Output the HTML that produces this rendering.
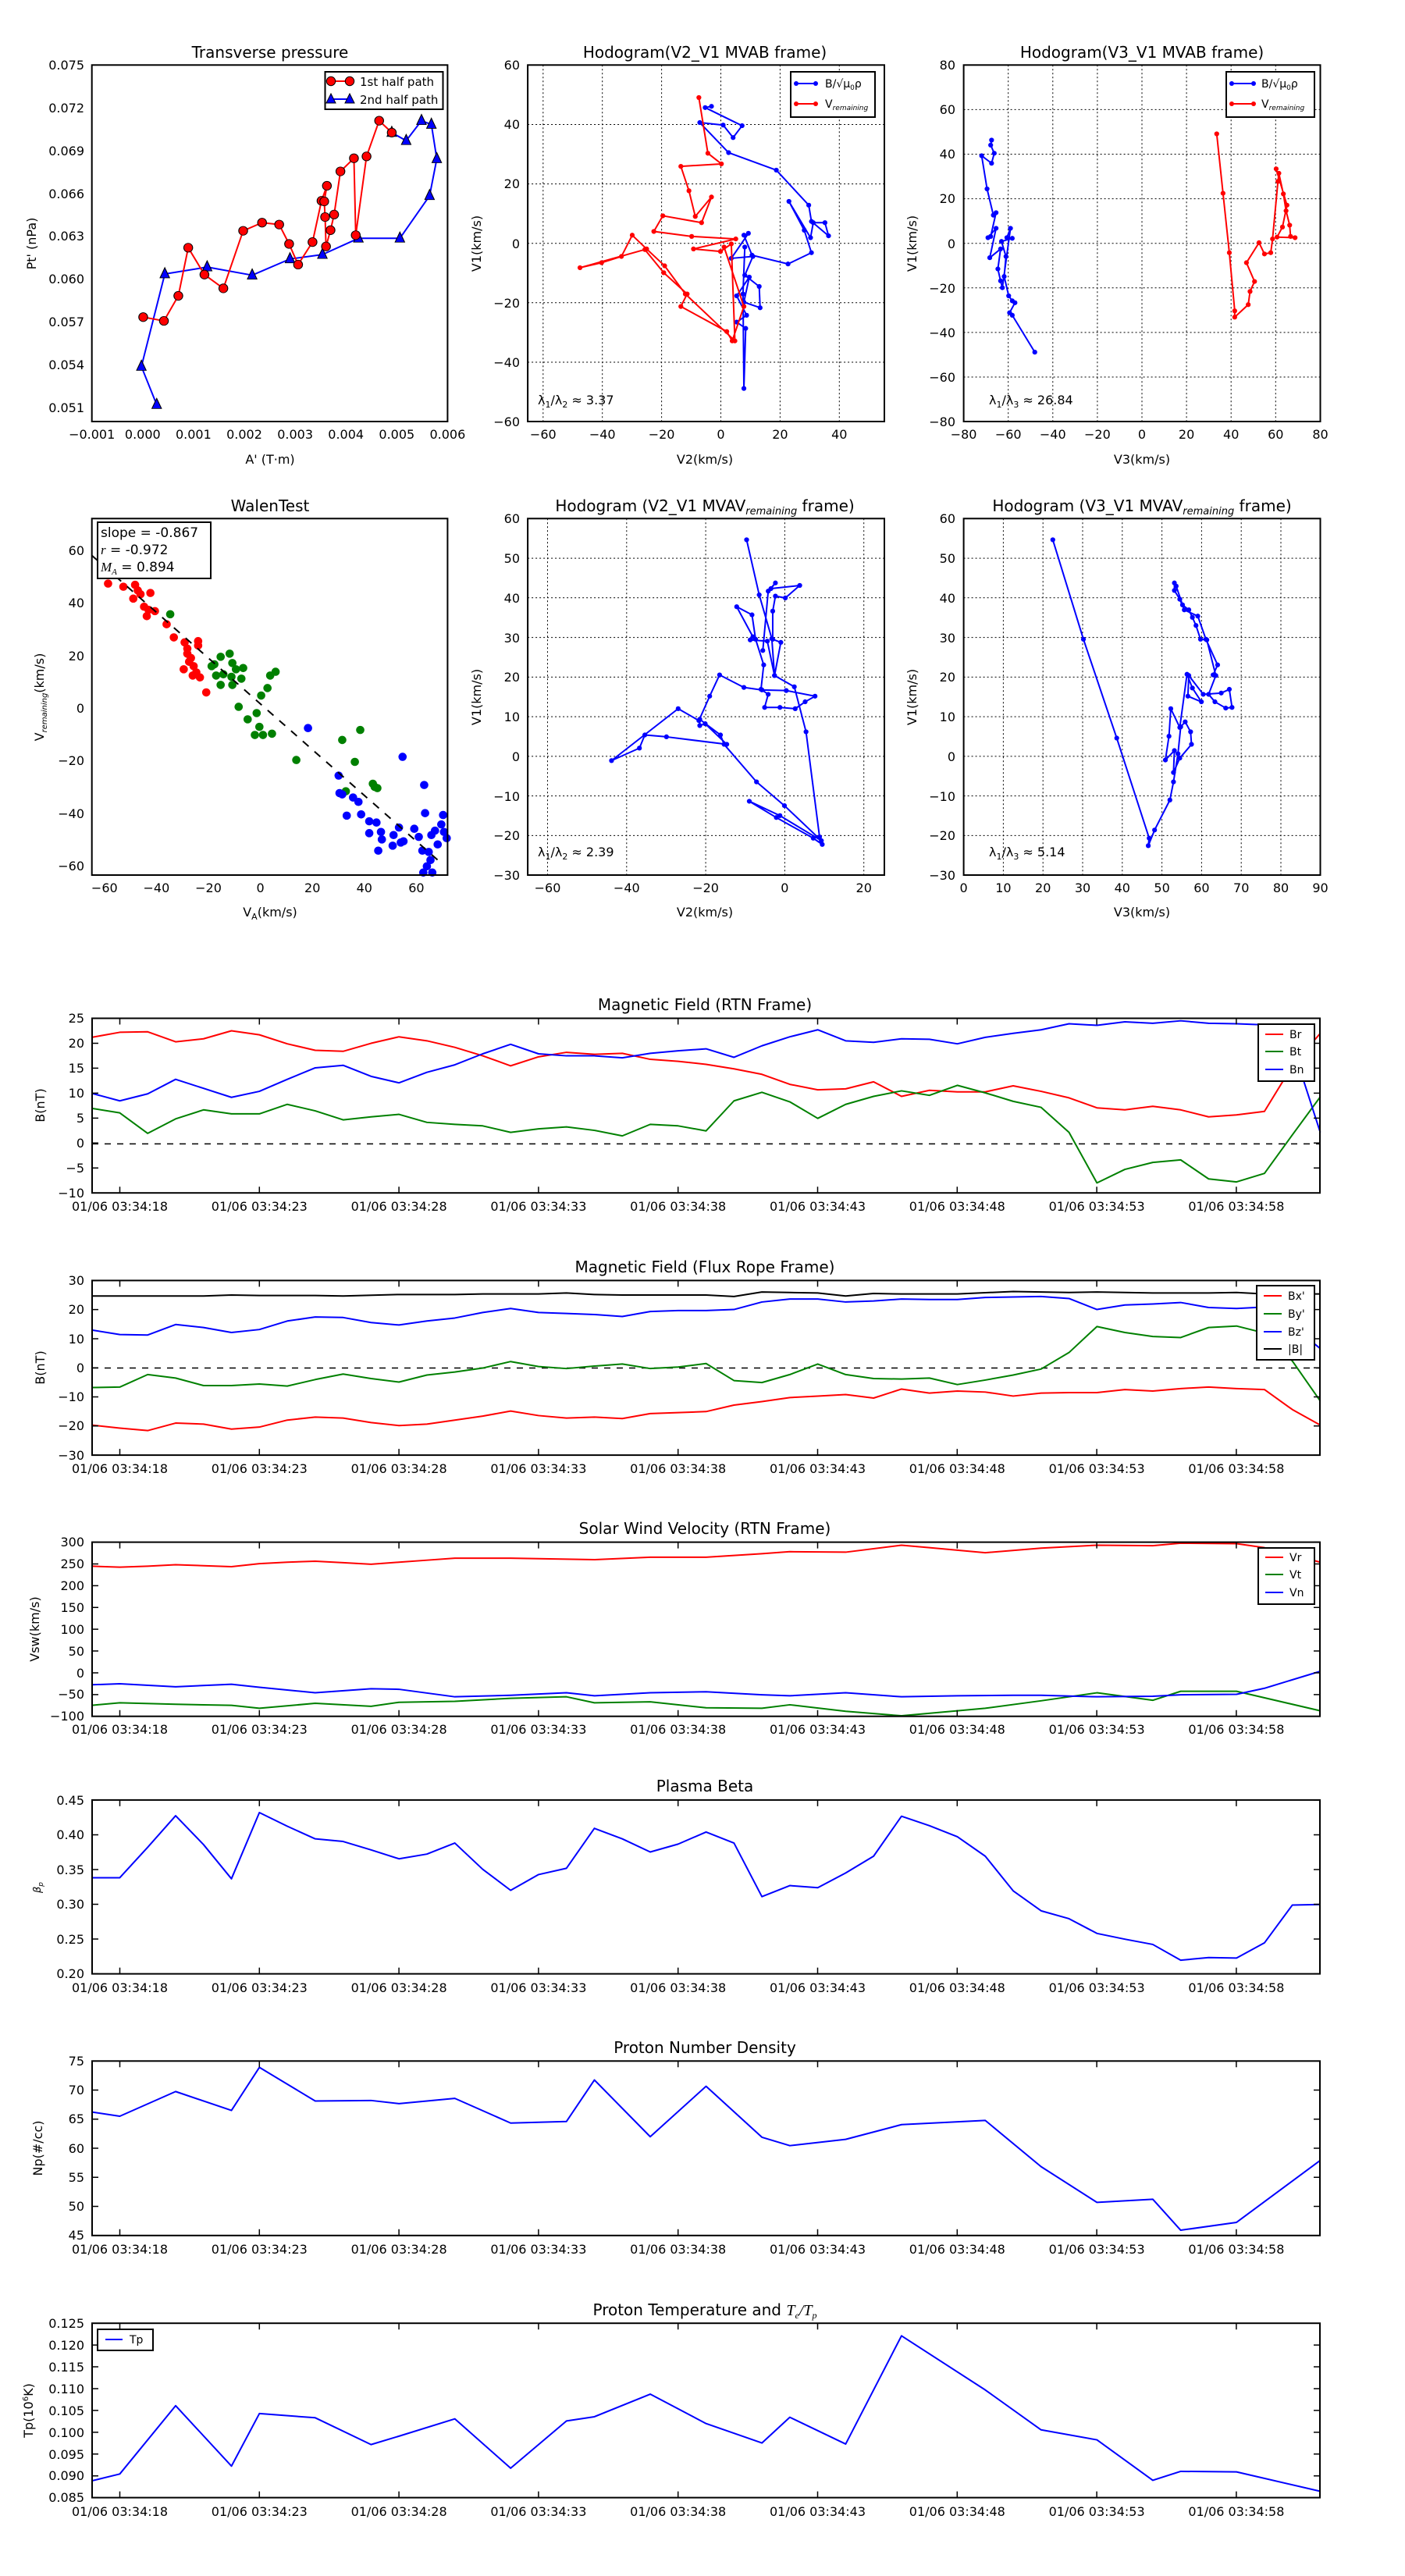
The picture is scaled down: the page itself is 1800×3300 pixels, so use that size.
<!DOCTYPE html>
<html><head><meta charset="utf-8"><style>
html,body{margin:0;padding:0;background:#fff}
svg{display:block}
text{font-family:"DejaVu Sans","Liberation Sans",sans-serif;fill:#000}
.t{font-size:20px;text-anchor:middle}
.k{font-size:16px}
.r{text-anchor:end}
.m{text-anchor:middle}
.l{fill:none;stroke-width:2;vector-effect:non-scaling-stroke;stroke-linejoin:round}
.ax{fill:none;stroke:#000;stroke-width:2}
.tk{stroke:#000;stroke-width:8;fill:none}
.g{stroke:#000;stroke-width:1;stroke-dasharray:2 3;fill:none}
.mk{stroke:none;fill:none}
</style></head><body>
<svg width="1800" height="3300" viewBox="0 0 1800 3300" xmlns="http://www.w3.org/2000/svg">
<defs>
<marker id="mr" markerUnits="userSpaceOnUse" overflow="visible"><ellipse rx="4.9" ry="7.1" fill="#f00" stroke="#000" stroke-width="1" vector-effect="non-scaling-stroke"/></marker>
<marker id="tb" markerUnits="userSpaceOnUse" overflow="visible"><polygon points="0,-10 5.3,6.2 -5.3,6.2" fill="#00f" stroke="#000" stroke-width="1" vector-effect="non-scaling-stroke"/></marker>
<marker id="db" markerUnits="userSpaceOnUse" overflow="visible"><ellipse rx="2.7" ry="3.9" fill="#00f"/></marker>
<marker id="dr" markerUnits="userSpaceOnUse" overflow="visible"><ellipse rx="2.7" ry="3.9" fill="#f00"/></marker>
<marker id="sr" markerUnits="userSpaceOnUse" overflow="visible"><ellipse rx="4.6" ry="6.6" fill="#f00"/></marker>
<marker id="sg" markerUnits="userSpaceOnUse" overflow="visible"><ellipse rx="4.6" ry="6.6" fill="#008000"/></marker>
<marker id="sb" markerUnits="userSpaceOnUse" overflow="visible"><ellipse rx="4.6" ry="6.6" fill="#00f"/></marker>
</defs>

<!-- ================= TOP ROWS: grids ================= -->
<g class="g">
<!-- hodo1 -->
<path d="M695.8,83.3V540M771.7,83.3V540M847.6,83.3V540M923.5,83.3V540M999.4,83.3V540M1075.3,83.3V540M676.1,159.5H1133M676.1,235.6H1133M676.1,311.7H1133M676.1,387.8H1133M676.1,464H1133"/>
<!-- hodo2 -->
<path d="M1291.7,83.3V540M1348.8,83.3V540M1405.9,83.3V540M1463,83.3V540M1520.1,83.3V540M1577.2,83.3V540M1634.3,83.3V540M1234.6,140.4H1691.5M1234.6,197.5H1691.5M1234.6,254.6H1691.5M1234.6,311.7H1691.5M1234.6,368.8H1691.5M1234.6,425.9H1691.5M1234.6,483H1691.5"/>
<!-- hodo3 -->
<path d="M701.5,664.3V1121M802.8,664.3V1121M904.1,664.3V1121M1005.4,664.3V1121M1106.7,664.3V1121M676.1,715.1H1133M676.1,765.8H1133M676.1,816.6H1133M676.1,867.4H1133M676.1,918.1H1133M676.1,968.9H1133M676.1,1019.6H1133M676.1,1070.4H1133"/>
<!-- hodo4 -->
<path d="M1285.4,664.3V1121M1336.2,664.3V1121M1387,664.3V1121M1437.8,664.3V1121M1488.6,664.3V1121M1539.4,664.3V1121M1590.2,664.3V1121M1641,664.3V1121M1234.6,715.1H1691.5M1234.6,765.8H1691.5M1234.6,816.6H1691.5M1234.6,867.4H1691.5M1234.6,918.1H1691.5M1234.6,968.9H1691.5M1234.6,1019.6H1691.5M1234.6,1070.4H1691.5"/>
</g>

<!-- ================= TOP ROWS data (zoom1 coords) ================= -->
<g transform="scale(1.1538,0.8013)">
<!-- pressure -->
<polyline class="l" stroke="#00f" marker-start="url(#tb)" marker-mid="url(#tb)" marker-end="url(#tb)" points="174,647 157,586 183,438 230,427 280,440 322,414 358,407 398,381 444,381 477,313 485,254 479,199 468,193 451,225 435,212"/>
<polyline class="l" stroke="#f00" marker-start="url(#mr)" marker-mid="url(#mr)" marker-end="url(#mr)" points="159,507 182,513 198,473 209,396 227,439 248,461 270,369 291,356 310,359 321,390 331,423 347,387 357,321 363,297 360,322 361,347 362,394 367,368 371,343 378,274 393,253 395,376 407,250 421,193 435,212"/>
<!-- hodo1 -->
<polyline class="l" stroke="#00f" marker-start="url(#db)" marker-mid="url(#db)" marker-end="url(#db)" points="790,170 783,172 824,201 814,220 803,200 777,196 809,244 862,272 898,328 901,354 920,377 916,356 903,356 900,380 876,322 893,368 901,404 875,422 835,408 826,376 831,373 812,413 836,410 827,440 843,458 844,492 826,483 832,443 818,473 829,504 818,515 828,525 826,621 825,470 827,395"/>
<polyline class="l" stroke="#f00" marker-start="url(#dr)" marker-mid="url(#dr)" marker-end="url(#dr)" points="776,156 786,245 801,262 756,266 765,305 772,346 790,315 779,356 736,345 726,370 768,378 817,382 770,398 800,402 812,390 816,545 761,470 738,425 718,398 702,376 690,410 668,420 644,428 716,399 737,436 763,470 756,490 807,530 813,545 826,490 804,395"/>
<!-- hodo2 -->
<polyline class="l" stroke="#00f" marker-start="url(#db)" marker-mid="url(#db)" marker-end="url(#db)" points="1101,224 1100,232 1104,245 1101,261 1090,249 1096,302 1103,344 1106,340 1100,378 1097,380 1106,365 1099,412 1111,398 1108,430 1111,449 1113,460 1122,365 1118,380 1124,381 1112,386 1117,410 1115,442 1120,473 1124,481 1127,484 1121,500 1124,504 1149,563"/>
<polyline class="l" stroke="#f00" marker-start="url(#dr)" marker-mid="url(#dr)" marker-end="url(#dr)" points="1351,214 1358,309 1365,404 1371,497 1371,507 1386,487 1388,466 1393,450 1384,420 1398,388 1404,406 1411,404 1413,382 1419,290 1420,277 1425,310 1428,337 1432,360 1433,378 1438,380 1418,379 1424,363 1429,328 1417,270"/>
<!-- walen -->
<polyline class="mk" marker-start="url(#sr)" marker-mid="url(#sr)" marker-end="url(#sr)" points="120,933 137,938 150,935 153,944 148,957 156,950 167,948 160,970 165,975 172,977 163,985 185,998 193,1019 205,1027 208,1037 220,1025 220,1032 212,1052 210,1058 215,1065 204,1070 218,1075 222,1083 229,1107 214,1080 208,1045"/>
<polyline class="mk" marker-start="url(#sg)" marker-mid="url(#sg)" marker-end="url(#sg)" points="189,982 238,1062 245,1050 255,1045 258,1060 262,1070 270,1068 268,1085 248,1078 257,1082 240,1080 235,1065 258,1095 245,1095 265,1130 275,1150 285,1140 290,1112 297,1100 300,1080 306,1074 288,1162 283,1175 292,1175 302,1173 329,1215 380,1183 400,1167 394,1218 414,1253 419,1260 384,1265 416,1258"/>
<polyline class="mk" marker-start="url(#sb)" marker-mid="url(#sb)" marker-end="url(#sb)" points="342,1164 447,1210 376,1240 380,1270 377,1268 392,1275 398,1282 385,1304 401,1302 410,1313 418,1315 423,1330 410,1332 424,1342 437,1335 436,1352 448,1345 443,1323 465,1338 479,1335 472,1300 492,1303 471,1255 483,1328 493,1330 486,1350 469,1360 476,1362 478,1375 474,1385 470,1395 480,1395 420,1360 445,1347 496,1340 490,1318 460,1325"/>
<!-- hodo3 -->
<polyline class="l" stroke="#00f" marker-start="url(#db)" marker-mid="url(#db)" marker-end="url(#db)" points="829,863 843,951 857,1021 860,1080 882,1098 895,1170 910,1338 913,1350 903,1340 862,1307 832,1281 866,1304 912,1344 871,1288 840,1250 804,1190 800,1175 777,1150 777,1160 783,1157 807,1190 740,1178 716,1175 710,1196 679,1216 753,1133 776,1152 788,1113 799,1079 826,1099 846,1103 873,1104 905,1113 894,1122 883,1133 866,1131 849,1131 853,1110 845,1102 848,1063 839,1022 835,983 818,970 836,1018 833,1023 852,1025 860,1080 867,1027 858,1022 858,977 861,953 872,956 888,936 856,941 861,932 853,945 847,1040"/>
<!-- hodo4 -->
<polyline class="l" stroke="#00f" marker-start="url(#db)" marker-mid="url(#db)" marker-end="url(#db)" points="1169,863 1203,1022 1240,1180 1276,1340 1275,1352 1282,1327 1299,1279 1303,1250 1308,1205 1311,1162 1316,1154 1322,1170 1323,1190 1310,1212 1303,1235 1304,1200 1294,1215 1298,1177 1300,1133 1310,1163 1318,1078 1324,1100 1334,1122 1319,1113 1320,1080 1336,1110 1356,1108 1365,1102 1368,1131 1361,1132 1349,1122 1342,1110 1350,1080 1340,1023 1333,1022 1328,1000 1324,987 1320,975 1313,967 1306,937 1304,932 1304,944 1310,958 1315,975 1330,985 1339,1022 1352,1063 1347,1079"/>
</g>
<line x1="117.7" y1="711.6" x2="565.4" y2="1105.8" stroke="#000" stroke-width="2" stroke-dasharray="10 10"/>

<!-- axes frames top rows -->
<g class="ax">
<rect x="117.7" y="83.3" width="455.7" height="456.7"/>
<rect x="676.1" y="83.3" width="456.9" height="456.7"/>
<rect x="1234.6" y="83.3" width="456.9" height="456.7"/>
<rect x="117.7" y="664.3" width="455.7" height="456.7"/>
<rect x="676.1" y="664.3" width="456.9" height="456.7"/>
<rect x="1234.6" y="664.3" width="456.9" height="456.7"/>
</g>

<!-- titles top rows -->
<text class="t" x="346" y="74">Transverse pressure</text>
<text class="t" x="903" y="74">Hodogram(V2_V1 MVAB frame)</text>
<text class="t" x="1463" y="74">Hodogram(V3_V1 MVAB frame)</text>
<text class="t" x="346" y="655">WalenTest</text>
<text class="t" x="903" y="655">Hodogram (V2_V1 MVAV<tspan font-size="13" font-style="italic" dy="4">remaining</tspan><tspan dy="-4"> frame)</tspan></text>
<text class="t" x="1463" y="655">Hodogram (V3_V1 MVAV<tspan font-size="13" font-style="italic" dy="4">remaining</tspan><tspan dy="-4"> frame)</tspan></text>

<!-- tick labels pressure -->
<g class="k r">
<text x="108" y="89">0.075</text><text x="108" y="144">0.072</text><text x="108" y="199">0.069</text><text x="108" y="254">0.066</text><text x="108" y="308">0.063</text><text x="108" y="363">0.060</text><text x="108" y="418">0.057</text><text x="108" y="473">0.054</text><text x="108" y="528">0.051</text>
</g>
<g class="k m">
<text x="117.7" y="562">−0.001</text><text x="182.8" y="562">0.000</text><text x="247.9" y="562">0.001</text><text x="313" y="562">0.002</text><text x="378.1" y="562">0.003</text><text x="443.2" y="562">0.004</text><text x="508.3" y="562">0.005</text><text x="573.4" y="562">0.006</text>
<text x="695.8" y="562">−60</text><text x="771.7" y="562">−40</text><text x="847.6" y="562">−20</text><text x="923.5" y="562">0</text><text x="999.4" y="562">20</text><text x="1075.3" y="562">40</text>
<text x="1234.6" y="562">−80</text><text x="1291.7" y="562">−60</text><text x="1348.8" y="562">−40</text><text x="1405.9" y="562">−20</text><text x="1463" y="562">0</text><text x="1520.1" y="562">20</text><text x="1577.2" y="562">40</text><text x="1634.3" y="562">60</text><text x="1691.5" y="562">80</text>
<text x="133.8" y="1143">−60</text><text x="200.4" y="1143">−40</text><text x="267" y="1143">−20</text><text x="333.6" y="1143">0</text><text x="400.2" y="1143">20</text><text x="466.8" y="1143">40</text><text x="533.4" y="1143">60</text>
<text x="701.5" y="1143">−60</text><text x="802.8" y="1143">−40</text><text x="904.1" y="1143">−20</text><text x="1005.4" y="1143">0</text><text x="1106.7" y="1143">20</text>
<text x="1234.6" y="1143">0</text><text x="1285.4" y="1143">10</text><text x="1336.2" y="1143">20</text><text x="1387" y="1143">30</text><text x="1437.8" y="1143">40</text><text x="1488.6" y="1143">50</text><text x="1539.4" y="1143">60</text><text x="1590.2" y="1143">70</text><text x="1641" y="1143">80</text><text x="1691.5" y="1143">90</text>
</g>
<g class="k r">
<text x="666" y="89">60</text><text x="666" y="165">40</text><text x="666" y="241">20</text><text x="666" y="318">0</text><text x="666" y="394">−20</text><text x="666" y="470">−40</text><text x="666" y="546">−60</text>
<text x="1224" y="89">80</text><text x="1224" y="146">60</text><text x="1224" y="203">40</text><text x="1224" y="260">20</text><text x="1224" y="318">0</text><text x="1224" y="375">−20</text><text x="1224" y="432">−40</text><text x="1224" y="489">−60</text><text x="1224" y="546">−80</text>
<text x="108" y="711">60</text><text x="108" y="778">40</text><text x="108" y="846">20</text><text x="108" y="913">0</text><text x="108" y="980">−20</text><text x="108" y="1048">−40</text><text x="108" y="1115">−60</text>
<text x="666" y="670">60</text><text x="666" y="721">50</text><text x="666" y="772">40</text><text x="666" y="823">30</text><text x="666" y="873">20</text><text x="666" y="924">10</text><text x="666" y="975">0</text><text x="666" y="1026">−10</text><text x="666" y="1076">−20</text><text x="666" y="1127">−30</text>
<text x="1224" y="670">60</text><text x="1224" y="721">50</text><text x="1224" y="772">40</text><text x="1224" y="823">30</text><text x="1224" y="873">20</text><text x="1224" y="924">10</text><text x="1224" y="975">0</text><text x="1224" y="1026">−10</text><text x="1224" y="1076">−20</text><text x="1224" y="1127">−30</text>
</g>
<!-- axis labels top rows -->
<g class="k m">
<text x="346" y="594">A' (T·m)</text>
<text x="903" y="594">V2(km/s)</text>
<text x="1463" y="594">V3(km/s)</text>
<text x="346" y="1174">V<tspan font-size="11" dy="4">A</tspan><tspan dy="-4">(km/s)</tspan></text>
<text x="903" y="1174">V2(km/s)</text>
<text x="1463" y="1174">V3(km/s)</text>
<text transform="translate(46,312) rotate(-90)">Pt' (nPa)</text>
<text transform="translate(616,312) rotate(-90)">V1(km/s)</text>
<text transform="translate(1174,312) rotate(-90)">V1(km/s)</text>
<text transform="translate(56,893) rotate(-90)">V<tspan font-size="10" font-style="italic" dy="4">remaining</tspan><tspan dy="-4">(km/s)</tspan></text>
<text transform="translate(616,893) rotate(-90)">V1(km/s)</text>
<text transform="translate(1174,893) rotate(-90)">V1(km/s)</text>
</g>
<!-- lambda texts -->
<g class="k">
<text x="689" y="518">λ<tspan font-size="11" dy="4">1</tspan><tspan dy="-4">/λ</tspan><tspan font-size="11" dy="4">2</tspan><tspan dy="-4"> ≈ 3.37</tspan></text>
<text x="1267" y="518">λ<tspan font-size="11" dy="4">1</tspan><tspan dy="-4">/λ</tspan><tspan font-size="11" dy="4">3</tspan><tspan dy="-4"> ≈ 26.84</tspan></text>
<text x="689" y="1097">λ<tspan font-size="11" dy="4">1</tspan><tspan dy="-4">/λ</tspan><tspan font-size="11" dy="4">2</tspan><tspan dy="-4"> ≈ 2.39</tspan></text>
<text x="1267" y="1097">λ<tspan font-size="11" dy="4">1</tspan><tspan dy="-4">/λ</tspan><tspan font-size="11" dy="4">3</tspan><tspan dy="-4"> ≈ 5.14</tspan></text>
</g>
<!-- walen box -->
<rect x="125" y="669" width="145" height="72" fill="#fff" stroke="#000" stroke-width="2"/>
<g style="font-size:17px">
<text x="129" y="688">slope = -0.867</text>
<text x="129" y="710"><tspan font-style="italic" font-family="Liberation Serif">r</tspan> = -0.972</text>
<text x="129" y="732"><tspan font-style="italic" font-family="Liberation Serif">M<tspan font-size="11" dy="4">A</tspan></tspan><tspan dy="-4"> = 0.894</tspan></text>
</g>
<!-- legends top -->
<rect x="416.5" y="92" width="151" height="48" fill="#fff" stroke="#000" stroke-width="2"/>
<line x1="424" y1="104" x2="448" y2="104" stroke="#f00" stroke-width="2"/>
<circle cx="424" cy="104" r="5.7" fill="#f00" stroke="#000"/><circle cx="448" cy="104" r="5.7" fill="#f00" stroke="#000"/>
<line x1="424" y1="127" x2="448" y2="127" stroke="#00f" stroke-width="2"/>
<polygon points="424,120 430,132 418,132" fill="#00f" stroke="#000"/><polygon points="448,120 454,132 442,132" fill="#00f" stroke="#000"/>
<text class="k" x="461" y="110" style="font-size:15px">1st half path</text>
<text class="k" x="461" y="133" style="font-size:15px">2nd half path</text>

<rect x="1013" y="92" width="108" height="58" fill="#fff" stroke="#000" stroke-width="2"/>
<line x1="1020" y1="107" x2="1045" y2="107" stroke="#00f" stroke-width="2"/><circle cx="1020" cy="107" r="3" fill="#00f"/><circle cx="1045" cy="107" r="3" fill="#00f"/>
<line x1="1020" y1="133" x2="1045" y2="133" stroke="#f00" stroke-width="2"/><circle cx="1020" cy="133" r="3" fill="#f00"/><circle cx="1045" cy="133" r="3" fill="#f00"/>
<text x="1057" y="112" style="font-size:14px">B/√μ<tspan font-size="9" dy="3">0</tspan><tspan dy="-3">ρ</tspan></text>
<text x="1057" y="138" style="font-size:14px">V<tspan font-size="9" font-style="italic" dy="3">remaining</tspan></text>

<rect x="1571" y="92" width="113" height="58" fill="#fff" stroke="#000" stroke-width="2"/>
<line x1="1578" y1="107" x2="1606" y2="107" stroke="#00f" stroke-width="2"/><circle cx="1578" cy="107" r="3" fill="#00f"/><circle cx="1606" cy="107" r="3" fill="#00f"/>
<line x1="1578" y1="133" x2="1606" y2="133" stroke="#f00" stroke-width="2"/><circle cx="1578" cy="133" r="3" fill="#f00"/><circle cx="1606" cy="133" r="3" fill="#f00"/>
<text x="1616" y="112" style="font-size:14px">B/√μ<tspan font-size="9" dy="3">0</tspan><tspan dy="-3">ρ</tspan></text>
<text x="1616" y="138" style="font-size:14px">V<tspan font-size="9" font-style="italic" dy="3">remaining</tspan></text>

<!-- ================= TIME SERIES (zoom2) ================= -->
<line x1="118" y1="1465.4" x2="1691" y2="1465.4" stroke="#000" stroke-width="1.5" stroke-dasharray="8 8"/>
<line x1="118" y1="1752.5" x2="1691" y2="1752.5" stroke="#000" stroke-width="1.5" stroke-dasharray="8 8"/>
<g transform="translate(0,1250) scale(1.1538,0.641)">
<polyline class="l" stroke="#f00" points="102,123 133,113 164,112 195,132 226,126 257,110 288,118 319,136 350,149 381,151 412,135 443,122 474,130 505,143 536,160 567,180 598,162 629,153 660,157 691,155 722,167 753,171 784,177 815,186 846,197 877,217 908,228 939,226 970,212 1001,241 1032,229 1063,232 1094,232 1125,220 1156,231 1187,244 1218,264 1249,268 1280,261 1311,268 1342,282 1373,278 1404,271 1435,180 1466,115"/>
<polyline class="l" stroke="#008000" points="102,265 133,274 164,315 195,286 226,268 257,276 288,276 319,257 350,270 381,288 412,282 443,277 474,293 505,297 536,300 567,313 598,306 629,302 660,309 691,320 722,297 753,300 784,310 815,250 846,233 877,252 908,285 939,257 970,241 1001,230 1032,239 1063,219 1094,234 1125,251 1156,263 1187,313 1218,414 1249,387 1280,373 1311,368 1342,406 1373,412 1404,395 1435,318 1466,242"/>
<polyline class="l" stroke="#00f" points="102,235 133,250 164,236 195,207 226,225 257,243 288,231 319,207 350,184 381,179 412,201 443,214 474,193 505,178 536,156 567,137 598,156 629,160 660,160 691,164 722,155 753,150 784,146 815,163 846,140 877,122 908,108 939,130 970,133 1001,126 1032,127 1063,136 1094,123 1125,115 1156,108 1187,96 1218,99 1249,92 1280,95 1311,90 1342,95 1373,96 1404,98 1435,140 1466,313"/>

<polyline class="l" stroke="#f00" points="102,898 133,904 164,909 195,894 226,896 257,906 288,902 319,888 350,882 381,884 412,893 443,899 474,896 505,888 536,880 567,870 598,879 629,884 660,882 691,885 722,875 753,873 784,871 815,858 846,851 877,843 908,840 939,837 970,844 1001,826 1032,834 1063,830 1094,832 1125,840 1156,834 1187,833 1218,833 1249,827 1280,830 1311,825 1342,822 1373,825 1404,827 1435,867 1466,898"/>
<polyline class="l" stroke="#008000" points="102,823 133,822 164,797 195,804 226,819 257,819 288,816 319,820 350,807 381,796 412,805 443,812 474,798 505,792 536,784 567,771 598,781 629,785 660,780 691,776 722,785 753,782 784,775 815,809 846,813 877,797 908,776 939,797 970,805 1001,806 1032,804 1063,817 1094,808 1125,798 1156,786 1187,753 1218,701 1249,713 1280,721 1311,723 1342,703 1373,700 1404,714 1435,770 1466,850"/>
<polyline class="l" stroke="#00f" points="102,708 133,717 164,718 195,697 226,703 257,713 288,707 319,690 350,682 381,683 412,693 443,698 474,690 505,684 536,673 567,665 598,673 629,675 660,677 691,681 722,671 753,669 784,669 815,667 846,652 877,646 908,646 939,652 970,650 1001,646 1032,647 1063,647 1094,643 1125,642 1156,641 1187,645 1218,667 1249,658 1280,656 1311,653 1342,663 1373,665 1404,662 1435,700 1466,745"/>
<polyline class="l" stroke="#000" points="102,640 164,640 226,640 257,638 288,639 350,639 381,640 443,637 505,637 536,636 598,636 629,634 660,637 691,638 753,638 784,638 815,641 846,632 877,633 908,634 939,640 970,635 1001,636 1063,636 1125,631 1187,633 1218,632 1280,634 1342,634 1373,633 1404,636 1466,636"/>

<polyline class="l" stroke="#f00" points="102,1180 133,1182 164,1180 195,1177 226,1179 257,1181 288,1175 319,1172 350,1170 381,1173 412,1176 443,1172 474,1168 505,1164 567,1164 660,1167 722,1162 784,1162 846,1155 877,1151 939,1152 1001,1138 1032,1143 1094,1153 1156,1144 1218,1138 1280,1139 1311,1134 1373,1135 1404,1143 1466,1172"/>
<polyline class="l" stroke="#008000" points="102,1458 133,1453 195,1456 257,1458 288,1464 350,1454 412,1460 443,1452 505,1450 567,1444 629,1441 660,1453 722,1451 784,1463 846,1464 877,1457 939,1470 1001,1479 1063,1469 1094,1464 1156,1449 1218,1433 1280,1448 1311,1430 1373,1430 1466,1469"/>
<polyline class="l" stroke="#00f" points="102,1417 133,1415 195,1421 257,1416 288,1422 350,1433 412,1425 443,1426 505,1441 567,1438 629,1433 660,1439 722,1433 784,1431 846,1437 877,1439 939,1433 1001,1441 1063,1439 1125,1438 1156,1438 1218,1441 1280,1440 1311,1437 1373,1436 1404,1424 1466,1390"/>
</g>
<!-- zoom3 -->
<g transform="translate(0,2250) scale(1.1538,0.673)">
<polyline class="l" stroke="#00f" points="102,231 133,231 164,173 195,113 226,168 257,233 288,107 319,133 350,157 381,162 412,178 443,195 474,186 505,165 536,215 567,255 598,225 629,213 660,137 691,157 722,182 753,167 784,144 815,165 846,267 877,246 908,250 939,222 970,190 1001,114 1032,132 1063,153 1094,190 1125,256 1156,294 1187,309 1218,337 1249,348 1280,358 1311,388 1342,383 1373,384 1404,355 1435,283 1466,282"/>
<polyline class="l" stroke="#00f" points="102,677 133,685 195,638 257,674 288,592 350,656 412,655 443,661 505,651 567,698 629,695 660,616 722,724 784,628 846,725 877,741 939,729 1001,701 1094,693 1156,781 1218,849 1280,843 1311,902 1373,887 1466,769"/>
<polyline class="l" stroke="#00f" points="102,1379 133,1366 195,1236 257,1351 288,1251 350,1259 412,1310 443,1294 505,1261 567,1355 629,1265 660,1257 722,1214 784,1270 846,1307 877,1258 939,1309 1001,1103 1094,1206 1156,1282 1218,1301 1280,1378 1311,1361 1373,1362 1466,1399"/>
</g>

<!-- TS frames & ticks -->
<g class="ax">
<rect x="118" y="1304.5" width="1573" height="223.7"/>
<rect x="118" y="1640.4" width="1573" height="223.7"/>
<rect x="118" y="1975.6" width="1573" height="223.1"/>
<rect x="118" y="2305.9" width="1573" height="222.7"/>
<rect x="118" y="2640.3" width="1573" height="223.5"/>
<rect x="118" y="2976.2" width="1573" height="223.4"/>
</g>
<g class="tk" stroke-dasharray="1.5 177.3">
<line x1="152.75" x2="1691" y1="1524.2" y2="1524.2"/><line x1="152.75" x2="1691" y1="1308.5" y2="1308.5"/>
<line x1="152.75" x2="1691" y1="1860.1" y2="1860.1"/><line x1="152.75" x2="1691" y1="1644.4" y2="1644.4"/>
<line x1="152.75" x2="1691" y1="2194.7" y2="2194.7"/><line x1="152.75" x2="1691" y1="1979.6" y2="1979.6"/>
<line x1="152.75" x2="1691" y1="2524.6" y2="2524.6"/><line x1="152.75" x2="1691" y1="2309.9" y2="2309.9"/>
<line x1="152.75" x2="1691" y1="2859.8" y2="2859.8"/><line x1="152.75" x2="1691" y1="2644.3" y2="2644.3"/>
<line x1="152.75" x2="1691" y1="3195.6" y2="3195.6"/><line x1="152.75" x2="1691" y1="2980.2" y2="2980.2"/>
</g>
<g class="tk">
<line x1="122" x2="122" y1="1303.75" y2="1529" stroke-dasharray="1.5 30.46"/><line x1="1687" x2="1687" y1="1303.75" y2="1529" stroke-dasharray="1.5 30.46"/>
<line x1="122" x2="122" y1="1639.65" y2="1865" stroke-dasharray="1.5 35.78"/><line x1="1687" x2="1687" y1="1639.65" y2="1865" stroke-dasharray="1.5 35.78"/>
<line x1="122" x2="122" y1="1974.85" y2="2200" stroke-dasharray="1.5 26.39"/><line x1="1687" x2="1687" y1="1974.85" y2="2200" stroke-dasharray="1.5 26.39"/>
<line x1="122" x2="122" y1="2305.15" y2="2530" stroke-dasharray="1.5 43.04"/><line x1="1687" x2="1687" y1="2305.15" y2="2530" stroke-dasharray="1.5 43.04"/>
<line x1="122" x2="122" y1="2639.55" y2="2865" stroke-dasharray="1.5 35.75"/><line x1="1687" x2="1687" y1="2639.55" y2="2865" stroke-dasharray="1.5 35.75"/>
<line x1="122" x2="122" y1="2975.45" y2="3201" stroke-dasharray="1.5 26.43"/><line x1="1687" x2="1687" y1="2975.45" y2="3201" stroke-dasharray="1.5 26.43"/>
</g>

<!-- TS titles -->
<text class="t" x="903" y="1294">Magnetic Field (RTN Frame)</text>
<text class="t" x="903" y="1630">Magnetic Field (Flux Rope Frame)</text>
<text class="t" x="903" y="1965">Solar Wind Velocity (RTN Frame)</text>
<text class="t" x="903" y="2295">Plasma Beta</text>
<text class="t" x="903" y="2630">Proton Number Density</text>
<text class="t" x="903" y="2966">Proton Temperature and <tspan font-family="Liberation Serif" font-style="italic">T<tspan font-size="12" dy="4">e</tspan><tspan dy="-4">/T</tspan><tspan font-size="12" dy="4">p</tspan></tspan></text>

<!-- TS y tick labels -->
<g class="k r">
<text x="108" y="1310">25</text><text x="108" y="1342">20</text><text x="108" y="1374">15</text><text x="108" y="1406">10</text><text x="108" y="1438">5</text><text x="108" y="1470">0</text><text x="108" y="1502">−5</text><text x="108" y="1534">−10</text>
<text x="108" y="1646">30</text><text x="108" y="1683">20</text><text x="108" y="1721">10</text><text x="108" y="1758">0</text><text x="108" y="1795">−10</text><text x="108" y="1832">−20</text><text x="108" y="1870">−30</text>
<text x="108" y="1981">300</text><text x="108" y="2009">250</text><text x="108" y="2037">200</text><text x="108" y="2065">150</text><text x="108" y="2093">100</text><text x="108" y="2121">50</text><text x="108" y="2149">0</text><text x="108" y="2176">−50</text><text x="108" y="2204">−100</text>
<text x="108" y="2312">0.45</text><text x="108" y="2356">0.40</text><text x="108" y="2401">0.35</text><text x="108" y="2445">0.30</text><text x="108" y="2490">0.25</text><text x="108" y="2534">0.20</text>
<text x="108" y="2646">75</text><text x="108" y="2683">70</text><text x="108" y="2720">65</text><text x="108" y="2758">60</text><text x="108" y="2795">55</text><text x="108" y="2832">50</text><text x="108" y="2869">45</text>
<text x="108" y="2982">0.125</text><text x="108" y="3010">0.120</text><text x="108" y="3038">0.115</text><text x="108" y="3066">0.110</text><text x="108" y="3094">0.105</text><text x="108" y="3122">0.100</text><text x="108" y="3150">0.095</text><text x="108" y="3177">0.090</text><text x="108" y="3205">0.085</text>
</g>
<!-- TS x tick labels -->
<g class="k m">
<g transform="translate(0,1551)"><text x="153.5">01/06 03:34:18</text><text x="332.3">01/06 03:34:23</text><text x="511.1">01/06 03:34:28</text><text x="689.9">01/06 03:34:33</text><text x="868.7">01/06 03:34:38</text><text x="1047.5">01/06 03:34:43</text><text x="1226.3">01/06 03:34:48</text><text x="1405.1">01/06 03:34:53</text><text x="1583.9">01/06 03:34:58</text></g>
<g transform="translate(0,1887)"><text x="153.5">01/06 03:34:18</text><text x="332.3">01/06 03:34:23</text><text x="511.1">01/06 03:34:28</text><text x="689.9">01/06 03:34:33</text><text x="868.7">01/06 03:34:38</text><text x="1047.5">01/06 03:34:43</text><text x="1226.3">01/06 03:34:48</text><text x="1405.1">01/06 03:34:53</text><text x="1583.9">01/06 03:34:58</text></g>
<g transform="translate(0,2221)"><text x="153.5">01/06 03:34:18</text><text x="332.3">01/06 03:34:23</text><text x="511.1">01/06 03:34:28</text><text x="689.9">01/06 03:34:33</text><text x="868.7">01/06 03:34:38</text><text x="1047.5">01/06 03:34:43</text><text x="1226.3">01/06 03:34:48</text><text x="1405.1">01/06 03:34:53</text><text x="1583.9">01/06 03:34:58</text></g>
<g transform="translate(0,2552)"><text x="153.5">01/06 03:34:18</text><text x="332.3">01/06 03:34:23</text><text x="511.1">01/06 03:34:28</text><text x="689.9">01/06 03:34:33</text><text x="868.7">01/06 03:34:38</text><text x="1047.5">01/06 03:34:43</text><text x="1226.3">01/06 03:34:48</text><text x="1405.1">01/06 03:34:53</text><text x="1583.9">01/06 03:34:58</text></g>
<g transform="translate(0,2887)"><text x="153.5">01/06 03:34:18</text><text x="332.3">01/06 03:34:23</text><text x="511.1">01/06 03:34:28</text><text x="689.9">01/06 03:34:33</text><text x="868.7">01/06 03:34:38</text><text x="1047.5">01/06 03:34:43</text><text x="1226.3">01/06 03:34:48</text><text x="1405.1">01/06 03:34:53</text><text x="1583.9">01/06 03:34:58</text></g>
<g transform="translate(0,3223)"><text x="153.5">01/06 03:34:18</text><text x="332.3">01/06 03:34:23</text><text x="511.1">01/06 03:34:28</text><text x="689.9">01/06 03:34:33</text><text x="868.7">01/06 03:34:38</text><text x="1047.5">01/06 03:34:43</text><text x="1226.3">01/06 03:34:48</text><text x="1405.1">01/06 03:34:53</text><text x="1583.9">01/06 03:34:58</text></g>
</g>
<!-- TS y labels -->
<g class="k m">
<text transform="translate(57,1416) rotate(-90)">B(nT)</text>
<text transform="translate(57,1752) rotate(-90)">B(nT)</text>
<text transform="translate(50,2087) rotate(-90)">Vsw(km/s)</text>
<text transform="translate(52,2418) rotate(-90)" style="font-size:13px" font-family="Liberation Serif" font-style="italic">β<tspan font-size="9" dy="3">p</tspan></text>
<text transform="translate(54,2752) rotate(-90)">Np(#/cc)</text>
<text transform="translate(42,3088) rotate(-90)">Tp(10<tspan font-size="10" dy="-6">6</tspan><tspan dy="6">K)</tspan></text>
</g>

<!-- TS legends -->
<g font-size="14">
<rect x="1612" y="1312" width="72" height="73" fill="#fff" stroke="#000" stroke-width="2"/>
<line x1="1621" x2="1644" y1="1325" y2="1325" stroke="#f00" stroke-width="2"/><text x="1652" y="1330">Br</text>
<line x1="1621" x2="1644" y1="1347" y2="1347" stroke="#008000" stroke-width="2"/><text x="1652" y="1352">Bt</text>
<line x1="1621" x2="1644" y1="1370" y2="1370" stroke="#00f" stroke-width="2"/><text x="1652" y="1375">Bn</text>

<rect x="1610" y="1647" width="74" height="95" fill="#fff" stroke="#000" stroke-width="2"/>
<line x1="1619" x2="1642" y1="1660" y2="1660" stroke="#f00" stroke-width="2"/><text x="1650" y="1665">Bx'</text>
<line x1="1619" x2="1642" y1="1683" y2="1683" stroke="#008000" stroke-width="2"/><text x="1650" y="1688">By'</text>
<line x1="1619" x2="1642" y1="1706" y2="1706" stroke="#00f" stroke-width="2"/><text x="1650" y="1711">Bz'</text>
<line x1="1619" x2="1642" y1="1728" y2="1728" stroke="#000" stroke-width="2"/><text x="1650" y="1733">|B|</text>

<rect x="1612" y="1983" width="72" height="72" fill="#fff" stroke="#000" stroke-width="2"/>
<line x1="1621" x2="1644" y1="1995" y2="1995" stroke="#f00" stroke-width="2"/><text x="1652" y="2000">Vr</text>
<line x1="1621" x2="1644" y1="2017" y2="2017" stroke="#008000" stroke-width="2"/><text x="1652" y="2022">Vt</text>
<line x1="1621" x2="1644" y1="2040" y2="2040" stroke="#00f" stroke-width="2"/><text x="1652" y="2045">Vn</text>

<rect x="125" y="2984" width="71" height="27" fill="#fff" stroke="#000" stroke-width="2"/>
<line x1="135" x2="157" y1="2997" y2="2997" stroke="#00f" stroke-width="2"/><text x="166" y="3002">Tp</text>
</g>
</svg>
</body></html>
